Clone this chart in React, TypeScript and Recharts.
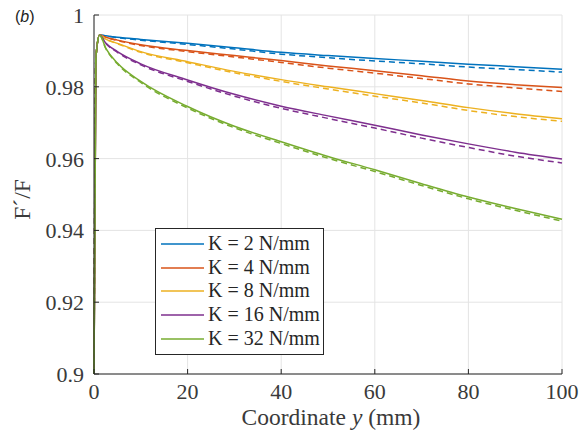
import React from "react";
import {
  LineChart,
  Line,
  XAxis,
  YAxis,
  CartesianGrid,
  Legend,
} from "recharts";

// ===== data =====
const xs = [0, 0.4, 1.2, 2.5, 5, 10, 20, 30, 40, 50, 60, 70, 80, 90, 100];

const k2 = [0.9, 0.988, 0.9944, 0.9942, 0.9938, 0.9932, 0.9921, 0.9909, 0.9896, 0.9887, 0.9879, 0.9871, 0.9863, 0.9856, 0.9849];
const k2Dash = [0.9, 0.988, 0.9944, 0.9942, 0.9937, 0.993, 0.9918, 0.9905, 0.9891, 0.9881, 0.9872, 0.9864, 0.9855, 0.9848, 0.9841];
const k4 = [0.9, 0.988, 0.9944, 0.9938, 0.993, 0.9917, 0.9901, 0.9887, 0.9873, 0.9858, 0.9845, 0.9831, 0.9816, 0.9806, 0.9798];
const k4Dash = [0.9, 0.988, 0.9944, 0.9938, 0.9929, 0.9915, 0.9898, 0.9883, 0.9868, 0.9852, 0.9838, 0.9823, 0.9808, 0.9797, 0.9787];
const k8 = [0.9, 0.988, 0.9944, 0.9933, 0.9921, 0.9898, 0.987, 0.9843, 0.982, 0.98, 0.9781, 0.9762, 0.9742, 0.9725, 0.9711];
const k8Dash = [0.9, 0.988, 0.9944, 0.9933, 0.992, 0.9896, 0.9867, 0.9839, 0.9815, 0.9794, 0.9774, 0.9755, 0.9734, 0.9717, 0.9704];
const k16 = [0.9, 0.988, 0.9944, 0.9922, 0.9898, 0.9864, 0.9819, 0.9779, 0.9746, 0.9719, 0.9693, 0.9666, 0.9641, 0.9618, 0.9599];
const k16Dash = [0.9, 0.988, 0.9944, 0.9921, 0.9896, 0.9861, 0.9815, 0.9774, 0.974, 0.9712, 0.9685, 0.9657, 0.9631, 0.9607, 0.9588];
const k32 = [0.9, 0.988, 0.9944, 0.9908, 0.9866, 0.9815, 0.9745, 0.969, 0.9647, 0.9606, 0.9569, 0.953, 0.9493, 0.9461, 0.9431];
const k32Dash = [0.9, 0.988, 0.9944, 0.9907, 0.9864, 0.9812, 0.9741, 0.9686, 0.9642, 0.9601, 0.9564, 0.9525, 0.9488, 0.9456, 0.9426];

const seriesNames = ["K = 2 N/mm", "K = 4 N/mm", "K = 8 N/mm", "K = 16 N/mm", "K = 32 N/mm"];
const seriesKeys = ["k2", "k4", "k8", "k16", "k32"];
const xTicks = [0, 20, 40, 60, 80, 100];
const yTicks = [0.9, 0.92, 0.94, 0.96, 0.98, 1];

const COLORS = ["#0072BD", "#D95319", "#EDB120", "#7E2F8E", "#77AC30"];
const AXIS = "#262626";
const FONT = "'Liberation Serif', 'Times New Roman', serif";
const tickStyle = { fontFamily: FONT, fontSize: 22 };
const labelStyle = { fontFamily: FONT, fontSize: 23.5 };

const solid = [k2, k4, k8, k16, k32];
const dashed = [k2Dash, k4Dash, k8Dash, k16Dash, k32Dash];

const data = xs.map((x, i) => {
  const row: any = { x };
  seriesKeys.forEach((k, s) => {
    row[k] = solid[s][i];
    row[k + "dash"] = dashed[s][i];
  });
  return row;
});

// ===== ticks pointing inward, MATLAB style =====
const BottomTick = ({ x, y, payload }: any) => (
  <g>
    <line x1={x} y1={y} x2={x} y2={y - 5} stroke={AXIS} />
    <text x={x} y={y + 25} textAnchor="middle" fill="#3a3a3a" style={tickStyle}>
      {payload.value}
    </text>
  </g>
);
const TopTick = ({ x, y }: any) => <line x1={x} y1={y} x2={x} y2={y + 5} stroke={AXIS} />;
const LeftTick = ({ x, y, payload }: any) => (
  <g>
    <line x1={x} y1={y} x2={x + 5} y2={y} stroke={AXIS} />
    <text x={x - 10} y={y + 8} textAnchor="end" fill="#3a3a3a" style={tickStyle}>
      {String(payload.value)}
    </text>
  </g>
);
const RightTick = ({ x, y }: any) => <line x1={x} y1={y} x2={x - 5} y2={y} stroke={AXIS} />;

// ===== legend box (solid lines only, in series order) =====
const LegendBox = ({ payload }: any) => {
  const items = (payload || [])
    .filter((p: any) => !String(p.dataKey).includes("dash"))
    .sort((a: any, b: any) => seriesKeys.indexOf(a.dataKey) - seriesKeys.indexOf(b.dataKey));
  return (
    <div
      style={{
        border: `1px solid ${AXIS}`,
        background: "#fff",
        padding: "3px 3px 3px 5px",
        fontFamily: FONT,
        fontSize: 20,
        color: "#262626",
        lineHeight: "23.7px",
      }}
    >
      {items.map((p: any, i: number) => (
        <div key={i} style={{ display: "flex", alignItems: "center", whiteSpace: "nowrap" }}>
          <svg width={43} height={10} style={{ marginRight: 4 }}>
            <line x1={0} y1={5} x2={43} y2={5} stroke={p.color} strokeWidth={1.5} />
          </svg>
          <span>{p.value}</span>
        </div>
      ))}
    </div>
  );
};

export default function App() {
  return (
    <div style={{ position: "absolute", left: 0, top: 0, width: 582, height: 441, background: "#fff" }}>
      <div
        style={{
          position: "absolute",
          left: 15,
          top: 8,
          fontFamily: "'Liberation Sans', Arial, sans-serif",
          fontSize: 16,
          color: "#222",
        }}
      >
        (<i>b</i>)
      </div>
      <LineChart width={582} height={441} data={data} margin={{ top: 15, right: 20, left: 0, bottom: 0 }}>
        <CartesianGrid stroke="#e4e4e4" strokeWidth={1} />
        <XAxis
          dataKey="x"
          type="number"
          domain={[0, 100]}
          ticks={xTicks}
          height={67}
          tickSize={0}
          tickMargin={0}
          axisLine={{ stroke: AXIS }}
          tickLine={false}
          tick={<BottomTick />}
          label={{
            content: ({ viewBox }: any) => (
              <text
                x={viewBox.x + viewBox.width / 2 + 3}
                y={viewBox.y + 51}
                textAnchor="middle"
                fill="#3a3a3a"
                style={labelStyle}
              >
                Coordinate <tspan fontStyle="italic">y</tspan> (mm)
              </text>
            ),
          }}
        />
        <XAxis
          xAxisId="top"
          orientation="top"
          dataKey="x"
          type="number"
          domain={[0, 100]}
          ticks={xTicks}
          height={0}
          tickSize={0}
          tickMargin={0}
          axisLine={{ stroke: AXIS }}
          tickLine={false}
          tick={<TopTick />}
        />
        <YAxis
          type="number"
          domain={[0.9, 1]}
          ticks={yTicks}
          width={94}
          tickSize={0}
          tickMargin={0}
          axisLine={{ stroke: AXIS }}
          tickLine={false}
          tick={<LeftTick />}
          label={{
            content: ({ viewBox }: any) => {
              const cx = viewBox.x + 30;
              const cy = viewBox.y + viewBox.height / 2 + 5;
              return (
                <text
                  x={cx}
                  y={cy}
                  transform={`rotate(-90 ${cx} ${cy})`}
                  textAnchor="middle"
                  fill="#3a3a3a"
                  style={labelStyle}
                >
                  F´/F
                </text>
              );
            },
          }}
        />
        <YAxis
          yAxisId="right"
          orientation="right"
          type="number"
          domain={[0.9, 1]}
          ticks={yTicks}
          width={0}
          tickSize={0}
          tickMargin={0}
          axisLine={{ stroke: AXIS }}
          tickLine={false}
          tick={<RightTick />}
        />
        {seriesKeys.map((k, s) => [
          <Line
            key={k}
            type="monotone"
            dataKey={k}
            name={seriesNames[s]}
            stroke={COLORS[s]}
            strokeWidth={1.5}
            dot={false}
            isAnimationActive={false}
          />,
          <Line
            key={k + "dash"}
            type="monotone"
            dataKey={k + "dash"}
            name={seriesNames[s] + " (dashed)"}
            stroke={COLORS[s]}
            strokeWidth={1.5}
            strokeDasharray="6 4"
            dot={false}
            legendType="none"
            isAnimationActive={false}
          />,
        ])}
        <Legend
          layout="vertical"
          align="center"
          verticalAlign="middle"
          content={<LegendBox />}
          wrapperStyle={{ left: 155, top: 228, width: "auto", height: "auto" }}
        />
      </LineChart>
    </div>
  );
}
